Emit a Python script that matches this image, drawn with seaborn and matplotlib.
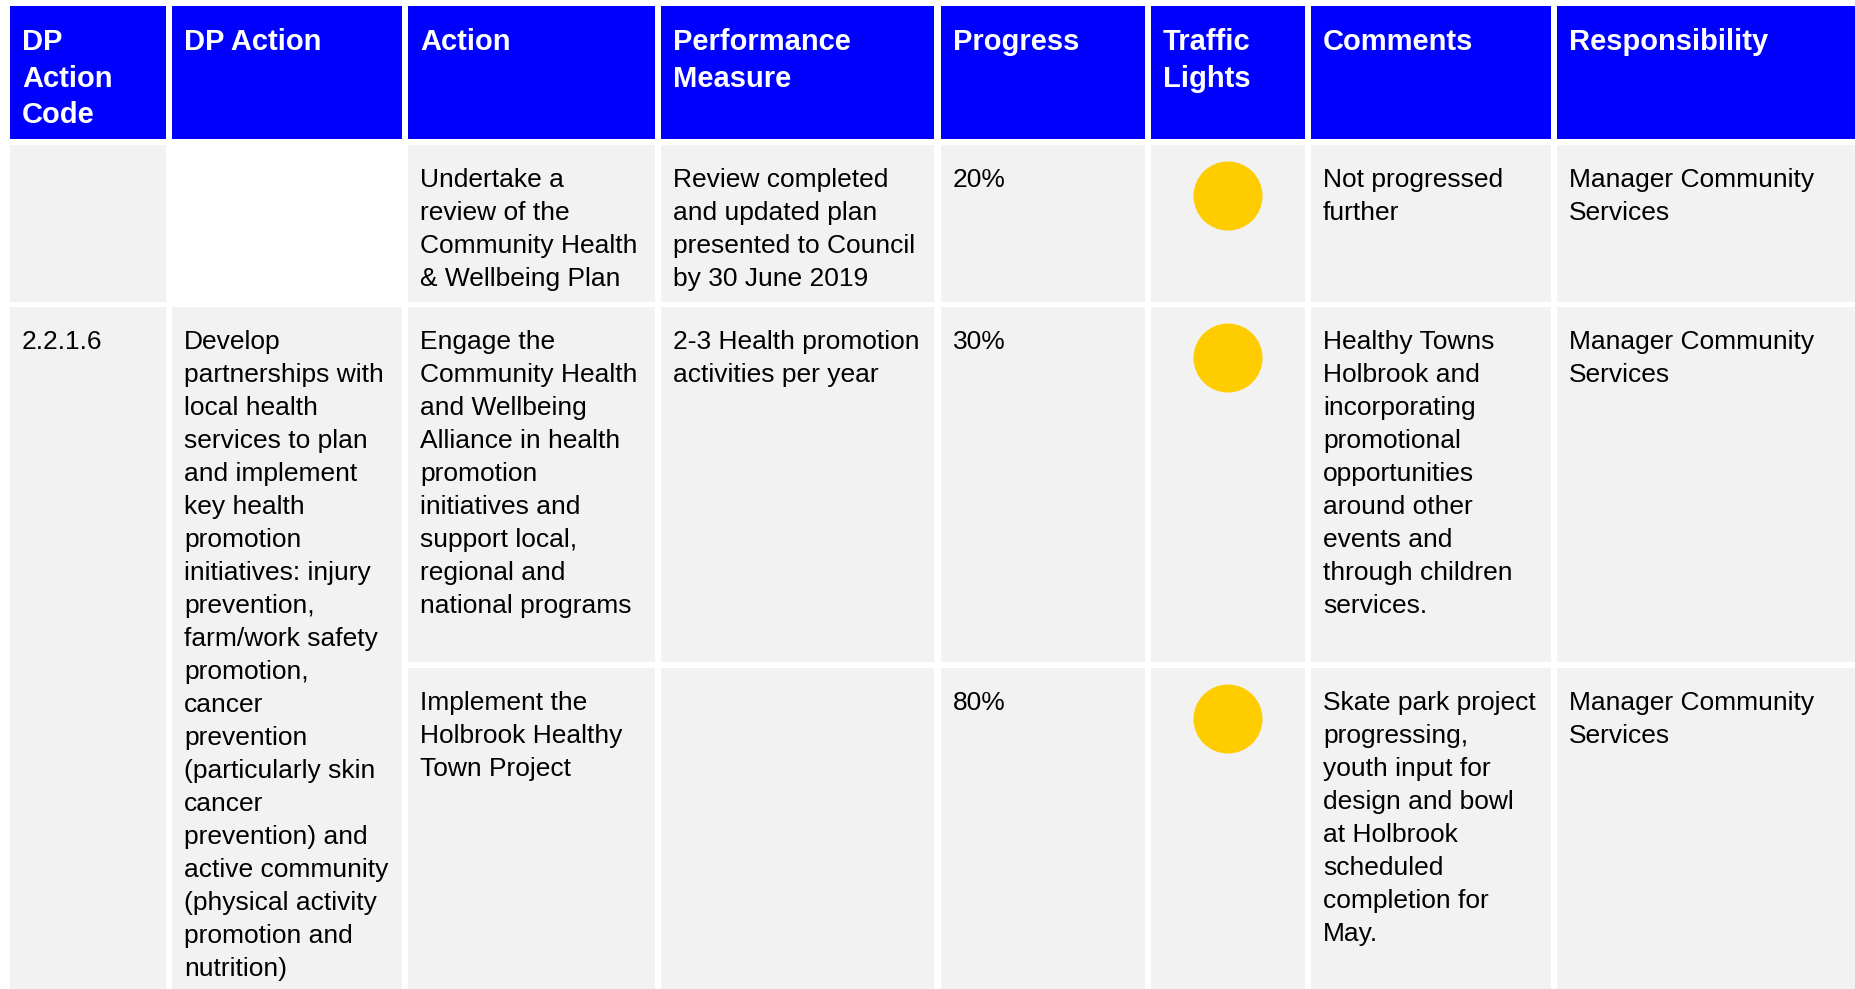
import pandas as pd
import matplotlib.pyplot as plt
import seaborn as sns
from matplotlib.patches import Rectangle

# table content, wrapped the same way as the source report
headers = ["DP\nAction\nCode", "DP Action", "Action", "Performance\nMeasure",
           "Progress", "Traffic\nLights", "Comments", "Responsibility"]

dp_codes = ["", "2.2.1.6"]
dp_actions = ["", "Develop\npartnerships with\nlocal health\nservices to plan\nand implement\n"
              "key health\npromotion\ninitiatives: injury\nprevention,\nfarm/work safety\n"
              "promotion,\ncancer\nprevention\n(particularly skin\ncancer\nprevention) and\n"
              "active community\n(physical activity\npromotion and\nnutrition)"]

actions = ["Undertake a\nreview of the\nCommunity Health\n& Wellbeing Plan",
           "Engage the\nCommunity Health\nand Wellbeing\nAlliance in health\npromotion\n"
           "initiatives and\nsupport local,\nregional and\nnational programs",
           "Implement the\nHolbrook Healthy\nTown Project"]
measures = ["Review completed\nand updated plan\npresented to Council\nby 30 June 2019",
            "2-3 Health promotion\nactivities per year",
            ""]
progress = ["20%", "30%", "80%"]
lights = ["amber", "amber", "amber"]
comments = ["Not progressed\nfurther",
            "Healthy Towns\nHolbrook and\nincorporating\npromotional\nopportunities\naround other\n"
            "events and\nthrough children\nservices.",
            "Skate park project\nprogressing,\nyouth input for\ndesign and bowl\nat Holbrook\n"
            "scheduled\ncompletion for\nMay."]
responsibility = ["Manager Community\nServices"] * 3

# layout (pixels)
col_left = [10, 172, 408, 661, 941, 1151, 1311, 1557]
col_right = [166, 402, 655, 934, 1145, 1305, 1551, 1856]
head_top, head_bot = 7, 140
row_top = [146, 308, 669]
row_bot = [303, 663, 990]

BLUE = "#0000FF"
GREY = "#F2F2F2"
AMBER = "#FFCC00"
PAD = 12

sns.set_theme(style="white")
plt.rcParams['font.family'] = ['Liberation Sans', 'DejaVu Sans']

fig = plt.figure(figsize=(18.56, 9.8999), dpi=100)
ax = fig.add_axes([0, 0, 1, 1])


def cell(ax, c0, c1, y0, y1, color):
    ax.add_patch(Rectangle((col_left[c0], y0), col_right[c1] - col_left[c0], y1 - y0,
                           facecolor=color, edgecolor='none', zorder=1))


def put_text(ax, col, top, txt, bold=False, first=41, step=33.0, color='black', size=19):
    for i, line in enumerate(txt.split("\n")):
        ax.text(col_left[col] + PAD, top + first + i * step, line, fontsize=size,
                fontweight='bold' if bold else 'normal', color=color,
                va='baseline', ha='left', zorder=3)


# header
for c, h in enumerate(headers):
    cell(ax, c, c, head_top, head_bot, BLUE)
    put_text(ax, c, head_top, h, bold=True, first=43, step=36.7, color='white', size=21)

# merged DP code / DP action cells
cell(ax, 0, 0, row_top[0], row_bot[0], GREY)
cell(ax, 0, 0, row_top[1], row_bot[2], GREY)
cell(ax, 1, 1, row_top[1], row_bot[2], GREY)
put_text(ax, 0, row_top[1], dp_codes[1])
put_text(ax, 1, row_top[1], dp_actions[1])

# action rows
for r in range(3):
    for c in range(2, 8):
        cell(ax, c, c, row_top[r], row_bot[r], GREY)
    put_text(ax, 2, row_top[r], actions[r])
    put_text(ax, 3, row_top[r], measures[r])
    put_text(ax, 4, row_top[r], progress[r])
    put_text(ax, 6, row_top[r], comments[r])
    put_text(ax, 7, row_top[r], responsibility[r])

# traffic lights
tl = pd.DataFrame({
    "x": [(col_left[5] + col_right[5]) / 2] * 3,
    "y": [t + 51 for t in row_top],
    "status": lights,
})
sns.scatterplot(data=tl, x="x", y="y", hue="status", palette={"amber": AMBER},
                s=2470, linewidth=0, legend=False, ax=ax, zorder=4)
ax.set_xlim(0, 1856)
ax.set_ylim(990, 0)
ax.axis('off')

fig.savefig("out.png", dpi=100)
